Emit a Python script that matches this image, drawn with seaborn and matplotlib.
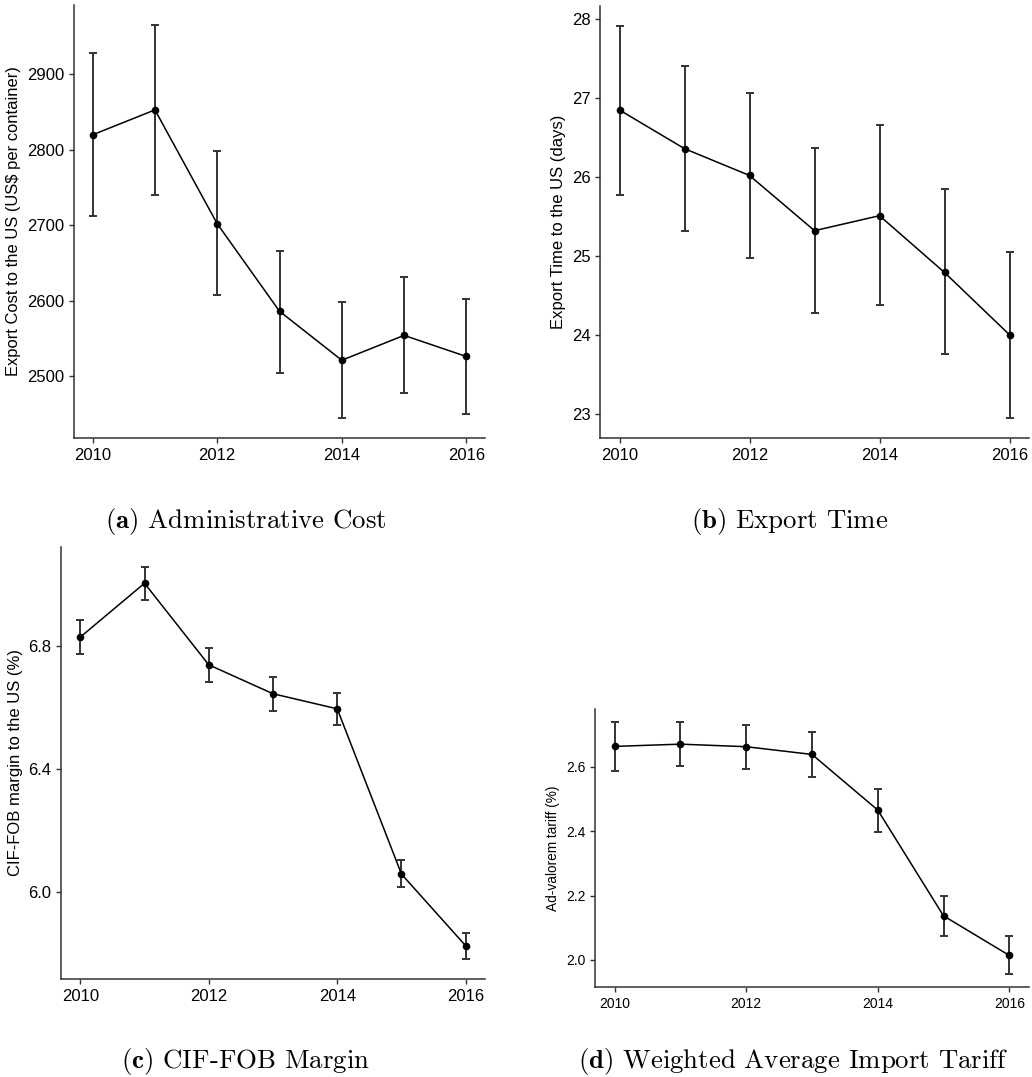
import numpy as np
import pandas as pd
import seaborn as sns
import matplotlib.pyplot as plt
from matplotlib.ticker import FormatStrFormatter

sns.set_theme(style="ticks")
plt.rcParams['font.family'] = ['Liberation Sans', 'DejaVu Sans']
plt.rcParams['mathtext.fontset'] = 'cm'

years = [2010, 2011, 2012, 2013, 2014, 2015, 2016]

# (a) administrative cost, US$ per container
cost = [2820, 2853, 2702, 2586, 2521, 2554, 2526]
cost_hi = [2928, 2966, 2798, 2666, 2598, 2631, 2602]
cost_lo = [2712, 2740, 2607, 2504, 2444, 2477, 2450]

# (b) export time, days
days = [26.85, 26.36, 26.02, 25.32, 25.51, 24.79, 24.00]
days_hi = [27.92, 27.41, 27.07, 26.37, 26.66, 25.85, 25.05]
days_lo = [25.77, 25.31, 24.97, 24.27, 24.38, 23.75, 22.94]

# (c) CIF-FOB margin, %
margin = [6.828, 7.003, 6.738, 6.644, 6.595, 6.058, 5.825]
margin_hi = [6.883, 7.057, 6.794, 6.699, 6.646, 6.103, 5.867]
margin_lo = [6.773, 6.948, 6.683, 6.587, 6.544, 6.017, 5.781]

# (d) ad-valorem tariff, %
tariff = [2.664, 2.671, 2.663, 2.639, 2.466, 2.137, 2.014]
tariff_hi = [2.739, 2.741, 2.731, 2.710, 2.532, 2.199, 2.074]
tariff_lo = [2.589, 2.602, 2.595, 2.569, 2.399, 2.074, 1.955]

W, H = 1032, 1077
fig = plt.figure(figsize=(W / 100, H / 100), dpi=100)


def px_axes(left, top, right, bottom):
    return fig.add_axes([left / W, 1 - bottom / H, (right - left) / W, (bottom - top) / H])


panels = [
    (px_axes(74, 5, 485, 438), cost, cost_lo, cost_hi,
     "Export Cost to the US (US$ per container)", [2500, 2600, 2700, 2800, 2900], "%d", 12, 11.9),
    (px_axes(600, 6, 1029, 438), days, days_lo, days_hi,
     "Export Time to the US (days)", [23, 24, 25, 26, 27, 28], "%d", 12, 12),
    (px_axes(61, 547, 485, 979), margin, margin_lo, margin_hi,
     "CIF-FOB margin to the US (%)", [6.0, 6.4, 6.8], "%.1f", 12, 12),
    (px_axes(595, 709, 1029, 987), tariff, tariff_lo, tariff_hi,
     "Ad-valorem tariff (%)", [2.0, 2.2, 2.4, 2.6], "%.1f", 10, 9.8),
]

for ax, vals, lo, hi, ylab, yt, fmt, fs_tick, fs_lab in panels:
    df = pd.DataFrame({"year": years, "val": vals, "lo": lo, "hi": hi})
    err = [df["val"] - df["lo"], df["hi"] - df["val"]]
    ax.errorbar(df["year"], df["val"], yerr=err, fmt="none", ecolor="#333333",
                elinewidth=1.4, capsize=3, capthick=1.4, zorder=2)
    sns.lineplot(data=df, x="year", y="val", ax=ax, color="black", lw=1.1,
                 marker="o", markersize=5.5, markeredgewidth=0, zorder=3)
    ax.set_xticks([2010, 2012, 2014, 2016])
    ax.set_yticks(yt)
    ax.yaxis.set_major_formatter(FormatStrFormatter(fmt))
    ax.set_xlabel("")
    ax.set_ylabel(ylab, fontsize=fs_lab, color="black")
    ax.tick_params(labelsize=fs_tick, colors="#333333", labelcolor="black", length=3.5, width=1)
    for s in ["left", "bottom"]:
        ax.spines[s].set_color("#333333")
        ax.spines[s].set_linewidth(1.1)
    sns.despine(ax=ax)

cap_kw = dict(fontfamily="cmr10", fontsize=19.3, ha="center", va="baseline", color="black")
fig.text(246 / W, 1 - 528 / H, r"$\mathbf{(a)}$ Administrative Cost", **cap_kw)
fig.text(790 / W, 1 - 528 / H, r"$\mathbf{(b)}$ Export Time", **cap_kw)
fig.text(245 / W, 1 - 1068 / H, r"$\mathbf{(c)}$ CIF-FOB Margin", **cap_kw)
fig.text(793 / W, 1 - 1068 / H, r"$\mathbf{(d)}$ Weighted Average Import Tariff", **cap_kw)

fig.savefig("out.png", dpi=100)
